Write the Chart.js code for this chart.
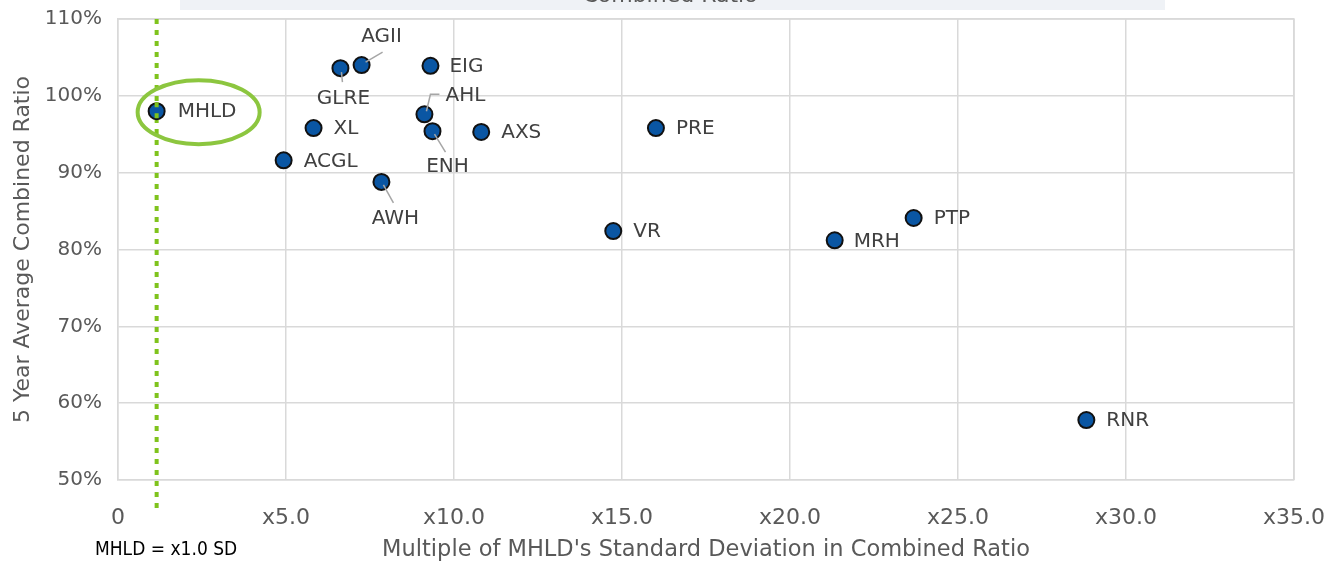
<!DOCTYPE html>
<html>
<head>
<meta charset="utf-8">
<script src="https://cdn.jsdelivr.net/npm/chart.js@4.4.1/dist/chart.umd.min.js"></script>
<style>
  html, body { margin: 0; padding: 0; background: #fff; }
  #wrap { width: 1344px; height: 566px; position: relative; }
</style>
</head>
<body>
<div id="wrap"><canvas id="scatterChart"></canvas></div>
<script>
// data
var companies = ['MHLD', 'ACGL', 'XL', 'GLRE', 'AGII', 'AWH', 'AHL', 'EIG', 'ENH', 'AXS', 'VR', 'PRE', 'MRH', 'PTP', 'RNR'];
var sdMultiple = [1.15, 4.93, 5.82, 6.62, 7.25, 7.84, 9.12, 9.30, 9.36, 10.81, 14.74, 16.01, 21.33, 23.68, 28.82];
var combinedRatio = [98.0, 91.6, 95.8, 103.6, 104.0, 88.8, 97.6, 103.9, 95.4, 95.3, 82.4, 95.8, 81.2, 84.1, 57.8];
var mhldLine = 1.15;
var xTicks = [0, 5, 10, 15, 20, 25, 30, 35];
var yTicks = [50, 60, 70, 80, 90, 100, 110];

// label placement (pixels from the point): [dx, dy, align, leader]
var labelPos = {
    MHLD: [21, 1, 'left'],
    ACGL: [20, 1, 'left'],
    XL: [20, 1, 'left'],
    GLRE: [3, 31, 'center', [[1, 4], [2, 14]]],
    AGII: [20, -28, 'center', [[4, -3], [21, -13]]],
    AWH: [14, 37, 'center', [[2, 3], [12, 21]]],
    AHL: [41, -18, 'center', [[2, -3], [6, -20], [15, -20]]],
    EIG: [19, 1, 'left'],
    ENH: [15, 36, 'center', [[2, 3], [13, 21]]],
    AXS: [20, 1, 'left'],
    VR: [20, 1, 'left'],
    PRE: [20, 1, 'left'],
    MRH: [19, 2, 'left'],
    PTP: [20, 1, 'left'],
    RNR: [20, 1, 'left']
};

var points = companies.map(function (c, i) {
    return { x: sdMultiple[i], y: combinedRatio[i] };
});

var fontFam = '"DejaVu Sans", "Open Sans", sans-serif';
var condFam = '"DejaVu Sans Condensed", "DejaVu Sans", sans-serif';
var gridCol = '#d9d9d9';

var decorations = {
    id: 'decorations',
    beforeDatasetsDraw: function (chart) {
        var ctx = chart.ctx, xs = chart.scales.x, area = chart.chartArea;
        ctx.save();
        // title box cut off at the top
        ctx.fillStyle = '#eff2f6';
        ctx.fillRect(180, 0, 985, 10);
        ctx.fillStyle = '#595959';
        ctx.font = '22px ' + fontFam;
        ctx.textAlign = 'center';
        ctx.textBaseline = 'middle';
        ctx.fillText('Combined Ratio', 670, -4);
        // top and right border of the plot
        ctx.strokeStyle = gridCol;
        ctx.lineWidth = 1.5;
        ctx.beginPath();
        ctx.moveTo(area.left, area.top);
        ctx.lineTo(area.right, area.top);
        ctx.lineTo(area.right, area.bottom);
        ctx.stroke();
        // dotted SD line
        var lx = xs.getPixelForValue(mhldLine);
        ctx.strokeStyle = '#7fc31c';
        ctx.lineWidth = 4;
        ctx.setLineDash([5, 6]);
        ctx.beginPath();
        ctx.moveTo(lx, area.top);
        ctx.lineTo(lx, area.bottom + 32);
        ctx.stroke();
        ctx.restore();
    },
    afterDatasetsDraw: function (chart) {
        var ctx = chart.ctx;
        var meta = chart.getDatasetMeta(0);
        ctx.save();
        // dotted line again over the MHLD point
        var lx = chart.scales.x.getPixelForValue(mhldLine);
        var p0 = meta.data[0];
        ctx.strokeStyle = '#7fc31c';
        ctx.lineWidth = 4;
        ctx.setLineDash([5, 6]);
        ctx.beginPath();
        ctx.moveTo(lx, p0.y - 9);
        ctx.lineTo(lx, p0.y + 9);
        ctx.stroke();
        ctx.setLineDash([]);
        // green ellipse round MHLD
        ctx.strokeStyle = '#8cc63f';
        ctx.lineWidth = 4;
        ctx.beginPath();
        ctx.ellipse(p0.x + 42, p0.y + 1, 61, 32, 0, 0, Math.PI * 2);
        ctx.stroke();
        // labels and leader lines
        ctx.font = '20px ' + fontFam;
        ctx.textBaseline = 'middle';
        companies.forEach(function (c, i) {
            var el = meta.data[i];
            var pos = labelPos[c];
            if (pos[3]) {
                ctx.strokeStyle = '#a6a6a6';
                ctx.lineWidth = 1.5;
                ctx.beginPath();
                pos[3].forEach(function (pt, k) {
                    if (k === 0) ctx.moveTo(el.x + pt[0], el.y + pt[1]);
                    else ctx.lineTo(el.x + pt[0], el.y + pt[1]);
                });
                ctx.stroke();
            }
            ctx.fillStyle = '#404040';
            ctx.textAlign = pos[2];
            ctx.fillText(c, el.x + pos[0], el.y + pos[1]);
        });
        // note under the axis
        ctx.fillStyle = '#000000';
        ctx.font = '19px ' + condFam;
        ctx.textAlign = 'left';
        ctx.fillText('MHLD = x1.0 SD', 95, 550);
        ctx.restore();
    }
};

var ctx = document.getElementById('scatterChart').getContext('2d');
var myChart = new Chart(ctx, {
    type: 'scatter',
    data: {
        datasets: [{
            label: '5 Year Average Combined Ratio',
            data: points,
            backgroundColor: '#0a56a3',
            borderColor: '#111111',
            borderWidth: 2,
            pointRadius: 8,
            pointHoverRadius: 8
        }]
    },
    options: {
        responsive: true,
        maintainAspectRatio: false,
        animation: false,
        layout: { padding: { left: 0, top: 19, right: 50, bottom: 0 } },
        plugins: {
            legend: { display: false },
            tooltip: { enabled: false }
        },
        scales: {
            x: {
                type: 'linear',
                min: 0,
                max: 35,
                afterBuildTicks: function (axis) {
                    axis.ticks = xTicks.map(function (v) { return { value: v }; });
                },
                afterFit: function (axis) {
                    axis.height = 86;
                    axis.paddingLeft = 0;
                    axis.paddingRight = 0;
                },
                ticks: {
                    color: '#595959',
                    font: { family: fontFam, size: 22 },
                    padding: 25,
                    callback: function (v) { return v === 0 ? '0' : 'x' + v.toFixed(1); }
                },
                grid: { color: gridCol, lineWidth: 1.5, drawTicks: false },
                border: { color: gridCol, width: 1.5 },
                title: {
                    display: true,
                    text: "Multiple of MHLD's Standard Deviation in Combined Ratio",
                    color: '#595959',
                    font: { family: fontFam, size: 22.5 },
                    padding: { top: 0, bottom: 2 }
                }
            },
            y: {
                type: 'linear',
                min: 50,
                max: 110,
                afterBuildTicks: function (axis) {
                    axis.ticks = yTicks.map(function (v) { return { value: v }; });
                },
                afterFit: function (axis) {
                    axis.width = 118;
                    axis.paddingTop = 0;
                    axis.paddingBottom = 0;
                },
                ticks: {
                    color: '#595959',
                    font: { family: fontFam, size: 20 },
                    padding: 16,
                    callback: function (v) { return v + '%'; }
                },
                grid: { color: gridCol, lineWidth: 1.5, drawTicks: false },
                border: { color: gridCol, width: 1.5 },
                title: {
                    display: true,
                    text: '5 Year Average Combined Ratio',
                    color: '#595959',
                    font: { family: fontFam, size: 22 },
                    padding: { top: 10, bottom: 0 }
                }
            }
        }
    },
    plugins: [decorations]
});
</script>
</body>
</html>
